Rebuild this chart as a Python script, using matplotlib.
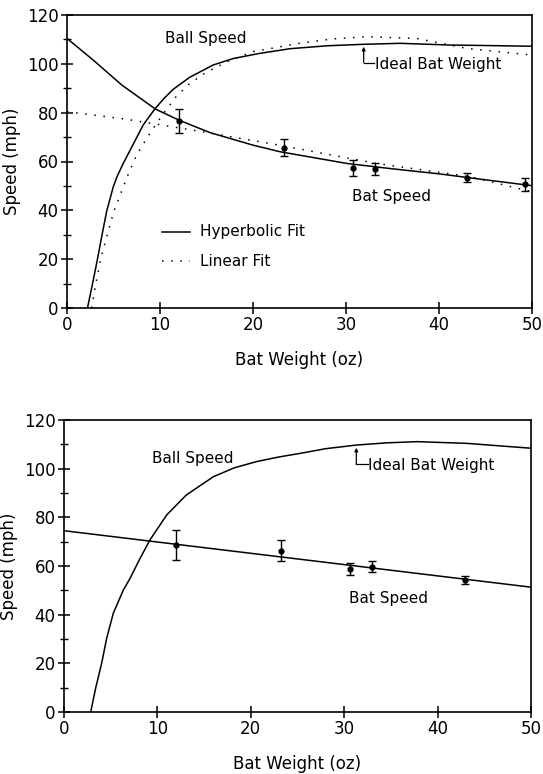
import matplotlib
matplotlib.use("Agg")
import matplotlib.pyplot as plt
from matplotlib.ticker import MultipleLocator

# ---- top panel: measured bat speeds and the two fits ----
w_pts = [12.0, 23.3, 30.8, 33.1, 43.0, 49.2]
bat_top = [76.5, 65.6, 57.2, 56.8, 53.4, 50.6]
err_top = [5.0, 3.5, 3.3, 2.5, 1.8, 2.8]

hyp_bat_x = [0, 2.8, 5.9, 9.5, 12, 15.4, 20, 22.9, 30.1, 35, 40.1, 45, 50]
hyp_bat_y = [110.4, 101.6, 91.3, 81.5, 77, 71.8, 66.7, 64, 59.2, 57, 54.9, 52.5, 50.1]

lin_bat_x = [0, 6.4, 13.9, 21.8, 33.3, 43.3, 50]
lin_bat_y = [80.4, 77.3, 72.6, 67.4, 59.2, 53.8, 47.6]

hyp_ball_x = [2.2, 2.75, 3.26, 3.73, 4.27, 4.98, 5.4, 6.06, 6.77, 8.2, 9.46, 10.4, 11.43,
              13.2, 15.7, 17.9, 20.75, 24, 28, 31.9, 35.8, 41.2, 45, 50]
hyp_ball_y = [0, 10, 19.7, 29.2, 39.7, 49.7, 54, 59.3, 64.5, 75, 81.6, 85.7, 89.6,
              94.5, 99.5, 102.2, 104.3, 106.2, 107.4, 108, 108.4, 107.7, 107.5, 107.2]

lin_ball_x = [2.65, 3.1, 3.6, 4.27, 5.05, 6.06, 6.5, 7.5, 8.57, 9.1, 10.36, 11.8, 13.2,
              14.66, 17.2, 20, 25, 28.5, 32.2, 37.6, 43, 50]
lin_ball_y = [0, 10, 19.7, 29.2, 39.7, 49.7, 54, 62.7, 69.5, 72.6, 79.6, 86.9, 91.9,
              95.8, 100.9, 105, 108.4, 110.2, 111.1, 110.4, 106.3, 103.6]

# ---- bottom panel ----
w_pts2 = [12.0, 23.2, 30.6, 33.0, 42.9]
bat_bot = [68.6, 66.3, 58.8, 59.7, 54.3]
err_bot = [6.0, 4.3, 2.6, 2.2, 1.5]

lin2_bat_x = [0, 50]
lin2_bat_y = [74.5, 51.3]

ball2_x = [2.86, 3.4, 4.03, 4.57, 5.28, 6.35, 7.07, 8.06, 9.2, 11.0, 13.1, 16.0,
           18.2, 20.6, 23, 25.3, 28, 31.3, 34.5, 37.8, 43.1, 50]
ball2_y = [0, 10, 20, 30.3, 40.6, 50.1, 54.9, 62.5, 70.7, 81, 89.2, 96.7,
           100.3, 102.9, 104.8, 106.3, 108.2, 109.7, 110.6, 111.1, 110.4, 108.4]

plt.rcParams['font.family'] = 'DejaVu Sans'

fig = plt.figure(figsize=(5.43, 7.74), dpi=100)
ax1 = fig.add_axes([67/543, 1-308/774, 465/543, 293/774])
ax2 = fig.add_axes([64/543, 1-712/774, 467/543, 292/774])


def style_axes(ax):
    ax.set_xlim(0, 50)
    ax.set_ylim(0, 120)
    ax.xaxis.set_major_locator(MultipleLocator(10))
    ax.yaxis.set_major_locator(MultipleLocator(20))
    ax.yaxis.set_minor_locator(MultipleLocator(10))
    ax.tick_params(which='major', direction='inout', length=8, width=1.1,
                   labelsize=12, top=False, right=False, pad=2)
    ax.tick_params(which='minor', direction='inout', length=6, width=1.0,
                   top=False, right=False)
    for s in ax.spines.values():
        s.set_linewidth(1.2)
    ax.set_xlabel('Bat Weight (oz)', fontsize=12, labelpad=12)
    ax.set_ylabel('Speed (mph)', fontsize=12, labelpad=4)


dot = (0, (1, 5))

# top panel
ax1.plot(hyp_bat_x, hyp_bat_y, color='black', lw=1.1)
ax1.plot(hyp_ball_x, hyp_ball_y, color='black', lw=1.1)
ax1.plot(lin_bat_x, lin_bat_y, color='black', lw=1.1, linestyle=dot)
ax1.plot(lin_ball_x, lin_ball_y, color='black', lw=1.1, linestyle=dot)
ax1.errorbar(w_pts, bat_top, yerr=err_top, fmt='o', color='black', ms=3.5,
             capsize=3, elinewidth=1.0, capthick=1.0)
ax1.text(10.5, 110.4, 'Ball Speed', fontsize=11, va='center')
ax1.text(30.6, 45.6, 'Bat Speed', fontsize=11, va='center')
ax1.annotate('', xy=(31.9, 107), xytext=(31.9, 100.5),
             arrowprops=dict(arrowstyle='-|>', color='black', lw=0.9,
                             mutation_scale=5, shrinkA=0, shrinkB=0))
ax1.plot([31.9, 33.0], [100.5, 100.5], color='black', lw=0.9)
ax1.text(33.1, 99.8, 'Ideal Bat Weight', fontsize=11, va='center')
ax1.plot([10.2, 13.2], [31.2, 31.2], color='black', lw=1.1)
ax1.plot([10.2, 13.2], [19.2, 19.2], color='black', lw=1.1, linestyle=dot)
ax1.text(14.3, 31.2, 'Hyperbolic Fit', fontsize=11, va='center')
ax1.text(14.3, 19.2, 'Linear Fit', fontsize=11, va='center')
style_axes(ax1)

# bottom panel
ax2.plot(lin2_bat_x, lin2_bat_y, color='black', lw=1.1)
ax2.plot(ball2_x, ball2_y, color='black', lw=1.1)
ax2.errorbar(w_pts2, bat_bot, yerr=err_bot, fmt='o', color='black', ms=3.5,
             capsize=3, elinewidth=1.0, capthick=1.0)
ax2.text(9.4, 104.3, 'Ball Speed', fontsize=11, va='center')
ax2.text(30.5, 46.7, 'Bat Speed', fontsize=11, va='center')
ax2.annotate('', xy=(31.3, 108.6), xytext=(31.3, 101.8),
             arrowprops=dict(arrowstyle='-|>', color='black', lw=0.9,
                             mutation_scale=5, shrinkA=0, shrinkB=0))
ax2.plot([31.3, 32.5], [101.8, 101.8], color='black', lw=0.9)
ax2.text(32.6, 101.3, 'Ideal Bat Weight', fontsize=11, va='center')
style_axes(ax2)

fig.savefig('out.png', dpi=100, facecolor='white')
